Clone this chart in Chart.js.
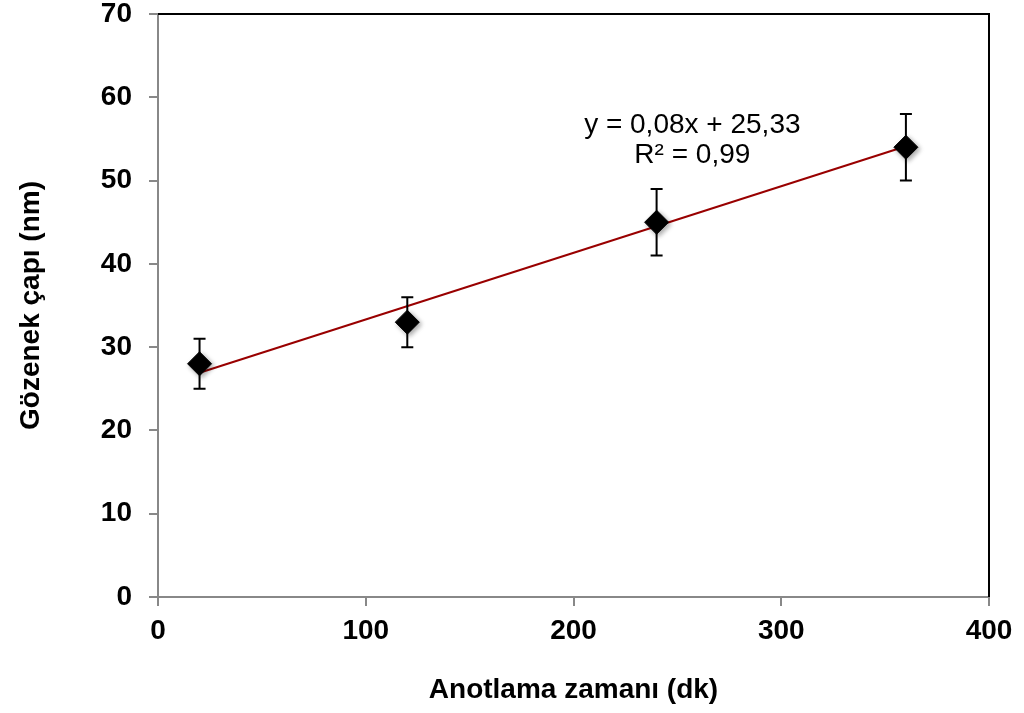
<!DOCTYPE html>
<html>
<head>
<meta charset="utf-8">
<script src="https://cdn.jsdelivr.net/npm/chart.js@4.4.1/dist/chart.umd.min.js"></script>
<style>
html,body{margin:0;padding:0;background:#fff;}
#wrap{width:1024px;height:713px;position:relative;}
</style>
</head>
<body>
<div id="wrap"><canvas id="c" width="1024" height="713"></canvas></div>
<script>
const xValues = [20, 120, 240, 360];
const yValues = [28, 33, 45, 54];
const yErrors = [3, 3, 4, 4];
const trendX = [20, 360];
const trendY = [26.93, 54.13];
const equationLines = ["y = 0,08x + 25,33", "R² = 0,99"];
const xTitle = "Anotlama zamanı (dk)";
const yTitle = "Gözenek çapı (nm)";

const FONT = "'Liberation Sans', Arial, sans-serif";

const shadowPlugin = {
  id: 'shadow',
  beforeDatasetDraw(chart, args) {
    if (args.index === 1) {
      const ctx = chart.ctx;
      ctx.save();
      ctx.shadowColor = 'rgba(0,0,0,0.35)';
      ctx.shadowBlur = 5;
      ctx.shadowOffsetX = 2;
      ctx.shadowOffsetY = 2;
    }
  },
  afterDatasetDraw(chart, args) {
    if (args.index === 1) chart.ctx.restore();
  }
};

const errorBarPlugin = {
  id: 'errorBars',
  afterDatasetsDraw(chart) {
    const ctx = chart.ctx;
    const xs = chart.scales.x, ys = chart.scales.y;
    ctx.save();
    ctx.strokeStyle = '#000';
    ctx.lineWidth = 2;
    for (let i = 0; i < xValues.length; i++) {
      const px = xs.getPixelForValue(xValues[i]);
      const top = ys.getPixelForValue(yValues[i] + yErrors[i]);
      const bot = ys.getPixelForValue(yValues[i] - yErrors[i]);
      ctx.beginPath();
      ctx.moveTo(px, top); ctx.lineTo(px, bot);
      ctx.moveTo(px - 6, top); ctx.lineTo(px + 6, top);
      ctx.moveTo(px - 6, bot); ctx.lineTo(px + 6, bot);
      ctx.stroke();
    }
    ctx.restore();
  }
};

const framePlugin = {
  id: 'frame',
  afterDraw(chart) {
    const ctx = chart.ctx, a = chart.chartArea;
    ctx.save();
    ctx.strokeStyle = '#000';
    ctx.lineWidth = 2;
    ctx.beginPath();
    ctx.moveTo(a.left, a.top);
    ctx.lineTo(a.right, a.top);
    ctx.lineTo(a.right, a.bottom);
    ctx.stroke();
    ctx.fillStyle = '#000';
    ctx.font = "28px " + FONT;
    ctx.textAlign = 'center';
    ctx.textBaseline = 'middle';
    const cx = a.left + (a.right - a.left) * 0.643;
    ctx.fillText(equationLines[0], cx, a.top + 111);
    ctx.fillText(equationLines[1], cx, a.top + 141);
    ctx.restore();
  }
};

new Chart(document.getElementById('c'), {
  type: 'scatter',
  data: {
    datasets: [
      {
        label: 'Trend',
        type: 'line',
        data: trendX.map((x, i) => ({x: x, y: trendY[i]})),
        borderColor: '#990000',
        borderWidth: 2,
        pointRadius: 0,
        fill: false,
        order: 2
      },
      {
        label: 'Gözenek çapı',
        data: xValues.map((x, i) => ({x: x, y: yValues[i]})),
        pointStyle: 'rectRot',
        pointRadius: 12,
        pointHoverRadius: 12,
        backgroundColor: '#000',
        borderColor: '#000',
        order: 1
      }
    ]
  },
  options: {
    responsive: false,
    animation: false,
    layout: {padding: {top: 14, right: 35, left: 0, bottom: 0}},
    plugins: {legend: {display: false}, tooltip: {enabled: false}},
    scales: {
      x: {
        type: 'linear',
        min: 0, max: 400,
        ticks: {stepSize: 100, color: '#000', font: {family: FONT, size: 28, weight: 'bold'}, padding: 8},
        grid: {drawOnChartArea: false, drawTicks: true, tickLength: 9, color: '#888', lineWidth: 2},
        border: {color: '#888', width: 2},
        title: {display: true, text: xTitle, color: '#000', font: {family: FONT, size: 28, weight: 'bold'}, padding: {top: 20, bottom: 6}},
        afterFit(s) { s.height = 116; }
      },
      y: {
        min: 0, max: 70,
        ticks: {stepSize: 10, color: '#000', font: {family: FONT, size: 28, weight: 'bold'}, padding: 17},
        grid: {drawOnChartArea: false, drawTicks: true, tickLength: 9, color: '#888', lineWidth: 2},
        border: {color: '#888', width: 2},
        title: {display: true, text: yTitle, color: '#000', font: {family: FONT, size: 28, weight: 'bold'}, padding: {top: 14, bottom: 20}},
        afterFit(s) { s.width = 158; s.paddingTop = 0; s.paddingBottom = 0; }
      }
    }
  },
  plugins: [shadowPlugin, errorBarPlugin, framePlugin]
});
</script>
</body>
</html>
